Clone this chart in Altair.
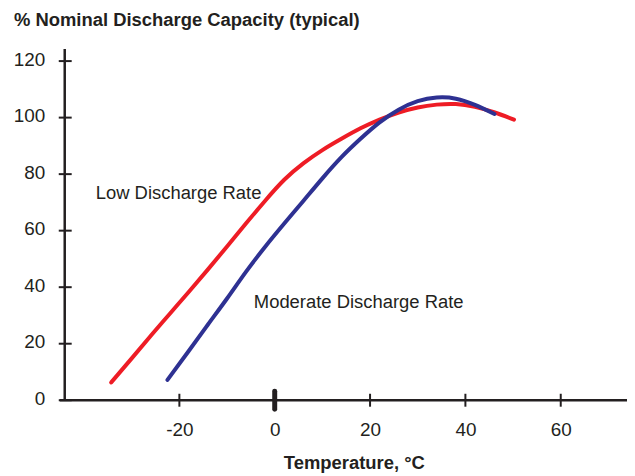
import altair as alt
import pandas as pd

# Data
low_temp = [-34.3, -30, -26, -22, -18, -14, -10, -6, -2, 2, 6, 10, 14, 18, 22, 26, 30, 34, 38, 42, 46, 50.2]
low_cap = [6.3, 14.8, 22.8, 30.6, 38.4, 46.3, 54.4, 62.6, 70.6, 78.0, 83.8, 88.5, 92.5, 96.2, 99.3,
           101.8, 103.6, 104.6, 104.8, 103.8, 101.9, 99.3]
mod_temp = [-22.5, -18, -14, -10, -6, -2, 2, 6, 10, 14, 18, 22, 26, 30, 34, 38, 42, 46.1]
mod_cap = [7.2, 17.5, 26.8, 36, 45.5, 54.3, 62.5, 70.5, 78.5, 86, 92.5, 98.3, 102.8, 105.8, 107.1, 106.7, 104.5, 101.3]
series_names = ["Low Discharge Rate", "Moderate Discharge Rate"]
series_colors = ["#ee1c25", "#2e3192"]
x_ticks = [-20, 0, 20, 40, 60]
y_ticks = [0, 20, 40, 60, 80, 100, 120]
title_text = "% Nominal Discharge Capacity (typical)"
x_title_text = "Temperature, °C"

FONT = "Liberation Sans"
INK = "#231f20"
W, H = 565, 353

df = pd.concat([
    pd.DataFrame({"temp": low_temp, "cap": low_cap, "series": series_names[0], "i": range(len(low_temp))}),
    pd.DataFrame({"temp": mod_temp, "cap": mod_cap, "series": series_names[1], "i": range(len(mod_temp))}),
])

xs = alt.Scale(domain=[-44.05, 73.9], nice=False, zero=False)
ys = alt.Scale(domain=[0, 124.3], nice=False, zero=False)

lines = alt.Chart(df).mark_line(strokeWidth=4, strokeCap="round", interpolate="natural").encode(
    x=alt.X("temp:Q", scale=xs, axis=alt.Axis(
        values=x_ticks, domain=False, ticks=False, tickSize=0, grid=False, title=None,
        labelFontSize=19, labelFont=FONT, labelColor=INK, labelPadding=35,
        labelBaseline="alphabetic", labelExpr="datum.value + ''")),
    y=alt.Y("cap:Q", scale=ys, axis=alt.Axis(
        values=y_ticks, domain=False, ticks=False, tickSize=0, grid=False, title=None,
        labelFontSize=19, labelFont=FONT, labelColor=INK, labelPadding=20, labelOffset=-2)),
    color=alt.Color("series:N", scale=alt.Scale(domain=series_names, range=series_colors), legend=None),
    order="i:Q",
)

x_axis_line = alt.Chart().mark_rule(color=INK, strokeWidth=2.5).encode(
    x=alt.value(-5), x2=alt.value(W), y=alt.value(H))
y_axis_line = alt.Chart().mark_rule(color=INK, strokeWidth=2.5).encode(
    x=alt.value(0), y=alt.value(0), y2=alt.value(H))

tick_df = pd.DataFrame({"t": x_ticks})
x_tick_marks = alt.Chart(tick_df).transform_filter("datum.t != 0").mark_rule(color=INK, strokeWidth=2).encode(
    x=alt.X("t:Q", scale=xs), y=alt.value(H - 6.5), y2=alt.value(H + 6.5))
x_zero_tick = alt.Chart(tick_df).transform_filter("datum.t == 0").mark_rule(
    color=INK, strokeWidth=5, strokeCap="round").encode(
    x=alt.X("t:Q", scale=xs), y=alt.value(H - 9), y2=alt.value(H + 9))
y_tick_marks = alt.Chart(pd.DataFrame({"v": y_ticks})).mark_rule(color=INK, strokeWidth=2).encode(
    y=alt.Y("v:Q", scale=ys), x=alt.value(-6), x2=alt.value(7))

title = alt.Chart().mark_text(text=title_text, font=FONT, fontSize=18.5, fontWeight="bold",
                              color=INK, align="left", baseline="alphabetic").encode(
    x=alt.value(-51), y=alt.value(-23))
x_title = alt.Chart().mark_text(text=x_title_text, font=FONT, fontSize=18.5, fontWeight="bold",
                                color=INK, align="center", baseline="alphabetic").encode(
    x=alt.value(291), y=alt.value(422.5))
low_label = alt.Chart().mark_text(text=series_names[0], font=FONT, fontSize=18.5, color=INK,
                                  align="right", baseline="alphabetic").encode(
    x=alt.value(197.7), y=alt.value(151))
mod_label = alt.Chart().mark_text(text=series_names[1], font=FONT, fontSize=18.5, color=INK,
                                  align="left", baseline="alphabetic").encode(
    x=alt.value(190), y=alt.value(260.3))

chart = alt.layer(
    x_axis_line, y_axis_line, x_tick_marks, x_zero_tick, y_tick_marks,
    lines, title, x_title, low_label, mod_label,
).properties(
    width=W, height=H,
    autosize=alt.AutoSizeParams(type="none"),
    padding={"left": 57, "top": 40, "right": 0, "bottom": 74},
).configure_view(stroke=None)

chart.save("out.html", embed_options={"renderer": "svg", "actions": False})
